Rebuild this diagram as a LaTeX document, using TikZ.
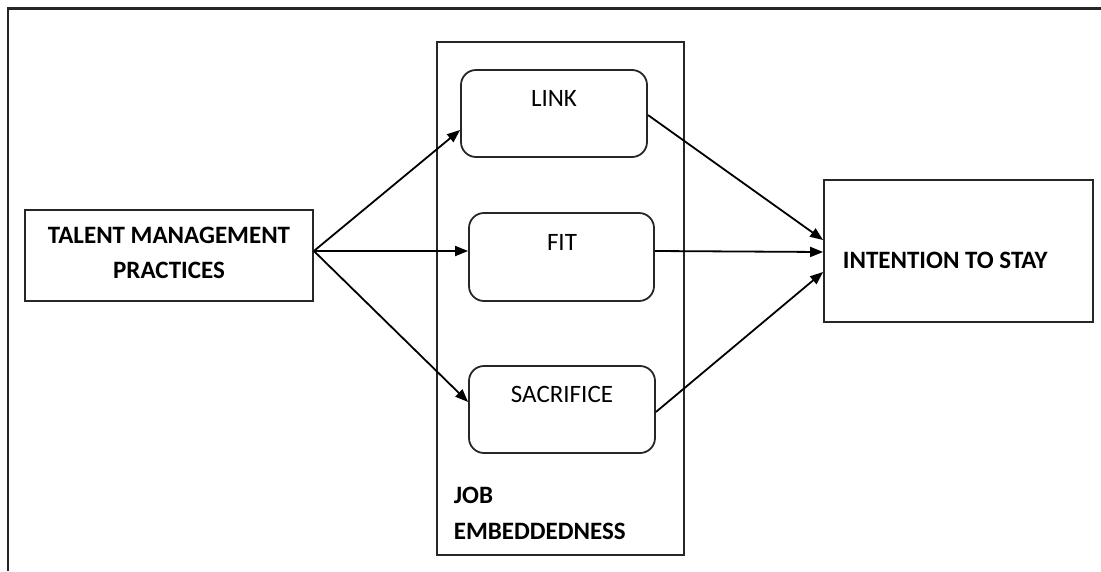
\documentclass[tikz,border=0pt]{standalone}
\usepackage{fontspec}
\setmainfont{Carlito}
\usetikzlibrary{arrows.meta}
\begin{document}
\begin{tikzpicture}[>={Triangle[length=13pt,width=10pt]},x=1pt,y=-1pt,line width=1.8pt,
    box/.style={draw=black!85,inner sep=0pt},
    rbox/.style={box,rounded corners=15pt},
    txt/.style={font=\fontsize{25}{35}\selectfont,anchor=base,inner sep=0pt},
    btxt/.style={txt,font=\fontsize{25}{35}\selectfont\bfseries}]
    \useasboundingbox (0,0) rectangle (1101,571);
    % frame
    \draw[line width=2.2pt,black!85] (1101,8.5)--(8,8.5)--(8,571);
    % boxes
    \path
    (560.5,298.5) node[box,minimum width=247,minimum height=513] (je) {}
    (169,255.5) node[box,minimum width=288,minimum height=91] (tmp) {}
    (554,113.5) node[rbox,minimum width=186,minimum height=87] (link) {}
    (561.5,257) node[rbox,minimum width=185,minimum height=88] (fit) {}
    (562,409.5) node[rbox,minimum width=186,minimum height=87] (sac) {}
    (958.5,251) node[box,minimum width=269,minimum height=142] (its) {}
    ;
    % texts
    \path
    (169,243) node[btxt] (tmpA) {TALENT MANAGEMENT}
    (169,278) node[btxt] (tmpB) {PRACTICES}
    (554,106) node[txt] (linkT) {LINK}
    (562,250) node[txt] (fitT) {FIT}
    (562,402) node[txt] (sacT) {SACRIFICE}
    (842,268) node[btxt,anchor=base west] (itsT) {INTENTION TO STAY}
    (453,503) node[btxt,anchor=base west] (jeA) {JOB}
    (453,539) node[btxt,anchor=base west] (jeB) {EMBEDDEDNESS}
    ;
    % ends of the arrows
    \coordinate (tmpout) at ([yshift=4.5pt]tmp.east);
    \coordinate (linkin) at ([yshift=-16.5pt]link.west);
    \coordinate (linkout) at ([yshift=-1.5pt]link.east);
    \coordinate (fitin) at ([yshift=6pt]fit.west);
    \coordinate (fitout) at ([yshift=6pt]fit.east);
    \coordinate (sacin) at ([yshift=7.5pt]sac.west);
    \coordinate (sacout) at ([yshift=-2.5pt]sac.east);
    \coordinate (itsA) at ([yshift=11pt]its.west);
    \coordinate (itsB) at ([yshift=-1pt]its.west);
    \coordinate (itsC) at ([yshift=-21pt]its.west);
    \draw[->] (tmpout)--(linkin);
    \draw[->] (tmpout)--(fitin);
    \draw[->] (tmpout)--(sacin);
    \draw[->] (linkout)--(itsA);
    \draw[->] (fitout)--(itsB);
    \draw[->] (sacout)--(itsC);
\end{tikzpicture}
\end{document}
